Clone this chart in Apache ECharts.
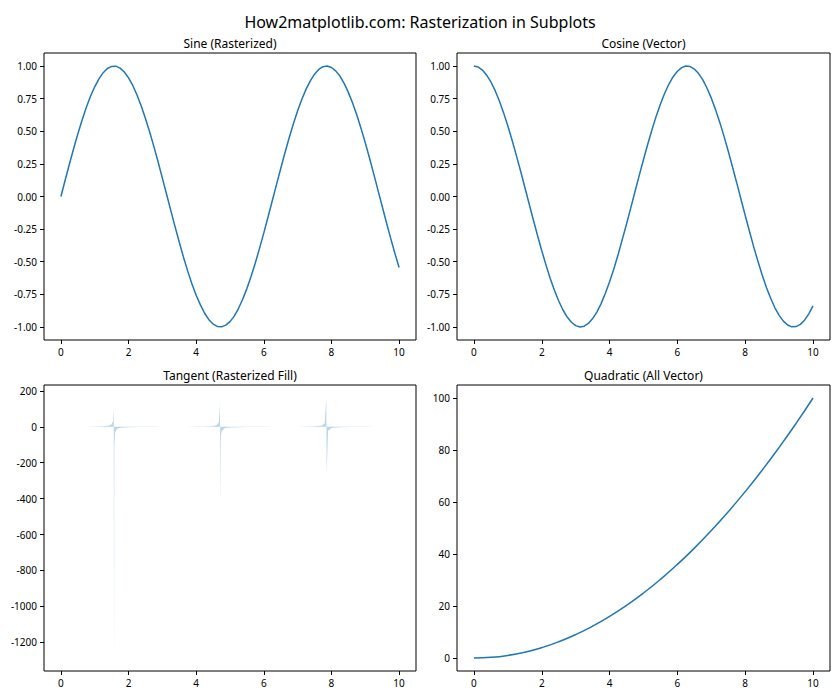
<!DOCTYPE html>
<html>
<head>
<meta charset="utf-8">
<script src="https://cdn.jsdelivr.net/npm/echarts@6/dist/echarts.min.js"></script>
<style>
html,body{margin:0;padding:0;background:#fff;}
#chart{width:840px;height:700px;}
</style>
</head>
<body>
<div id="chart"></div>
<script>
// ---- data ----
const sineX = [0,0.125,0.25,0.375,0.5,0.625,0.75,0.875,1,1.125,1.25,1.375,1.5,1.625,1.75,1.875,2,2.125,2.25,2.375,2.5,2.625,2.75,2.875,3,3.125,3.25,3.375,3.5,3.625,3.75,3.875,4,4.125,4.25,4.375,4.5,4.625,4.75,4.875,5,5.125,5.25,5.375,5.5,5.625,5.75,5.875,6,6.125,6.25,6.375,6.5,6.625,6.75,6.875,7,7.125,7.25,7.375,7.5,7.625,7.75,7.875,8,8.125,8.25,8.375,8.5,8.625,8.75,8.875,9,9.125,9.25,9.375,9.5,9.625,9.75,9.875,10];
const sineY = [0,0.125,0.247,0.366,0.479,0.585,0.682,0.768,0.841,0.902,0.949,0.981,0.997,0.999,0.984,0.954,0.909,0.851,0.778,0.694,0.598,0.494,0.382,0.264,0.141,0.017,-0.108,-0.231,-0.351,-0.465,-0.572,-0.670,-0.757,-0.831,-0.895,-0.944,-0.978,-0.996,-0.999,-0.986,-0.959,-0.917,-0.859,-0.788,-0.706,-0.612,-0.508,-0.396,-0.279,-0.157,-0.033,0.091,0.215,0.335,0.450,0.558,0.657,0.746,0.823,0.887,0.938,0.974,0.995,1.000,0.989,0.963,0.923,0.867,0.798,0.716,0.625,0.522,0.412,0.295,0.173,0.049,-0.075,-0.199,-0.319,-0.435,-0.544];
const cosX = sineX;
const cosY = [1,0.992,0.969,0.930,0.878,0.811,0.732,0.641,0.540,0.431,0.315,0.195,0.071,-0.054,-0.178,-0.299,-0.416,-0.526,-0.628,-0.720,-0.801,-0.870,-0.924,-0.964,-0.990,-1.000,-0.994,-0.973,-0.936,-0.886,-0.821,-0.742,-0.654,-0.556,-0.446,-0.329,-0.211,-0.087,0.038,0.162,0.284,0.401,0.512,0.616,0.709,0.791,0.862,0.918,0.960,0.988,1.000,0.996,0.977,0.942,0.894,0.830,0.754,0.666,0.568,0.461,0.347,0.226,0.104,-0.021,-0.146,-0.266,-0.386,-0.497,-0.602,-0.697,-0.780,-0.853,-0.911,-0.955,-0.985,-0.999,-0.997,-0.980,-0.948,-0.900,-0.839];
const tanX = [0,0.25,0.5,0.75,1,1.25,1.4,1.5,1.54,1.5616,1.5716,1.58,1.6,1.65,1.75,2,2.25,2.5,2.75,3,3.25,3.5,3.75,4,4.25,4.5,4.6,4.67,4.7047,4.7147,4.73,4.75,4.85,5,5.25,5.5,5.75,6,6.25,6.5,6.75,7,7.25,7.5,7.7,7.8,7.8478,7.8579,7.9,8,8.25,8.5,8.75,9,9.25,9.5,9.75,10];
const tanY = [0,0.255,0.546,0.932,1.557,3.01,5.8,14.1,32.5,108,-1270,-108.6,-34.2,-12.6,-5.52,-2.19,-1.24,-0.747,-0.41,-0.143,0.109,0.375,0.696,1.158,1.96,4.64,8.86,23.6,130,-434,-56,-26.1,-7.2,-3.38,-1.66,-0.996,-0.592,-0.291,-0.033,0.22,0.503,0.871,1.44,2.71,6.45,18.5,161,-258,-21.6,-6.8,-2.45,-1.3,-0.801,-0.452,-0.18,0.075,0.341,0.648];
const quadX = [0,0.5,1,1.5,2,2.5,3,3.5,4,4.5,5,5.5,6,6.5,7,7.5,8,8.5,9,9.5,10];
const quadY = [0,0.25,1,2.25,4,6.25,9,12.25,16,20.25,25,30.25,36,42.25,49,56.25,64,72.25,81,90.25,100];

const xTicks = [0,2,4,6,8,10];
const trigTicks = [-1,-0.75,-0.5,-0.25,0,0.25,0.5,0.75,1];
const tanTicks = [-1200,-1000,-800,-600,-400,-200,0,200];
const quadTicks = [0,20,40,60,80,100];

const mainTitle = 'How2matplotlib.com: Rasterization in Subplots';
const subTitles = ['Sine (Rasterized)','Cosine (Vector)','Tangent (Rasterized Fill)','Quadratic (All Vector)'];

// ---- layout ----
const FONT = 'Noto Sans';
const grids = [
  {left:44, top:53, width:372, height:287},
  {left:457, top:53, width:373, height:287},
  {left:44, top:385, width:372, height:286},
  {left:457, top:385, width:373, height:286}
];
const yRanges = [[-1.1,1.1],[-1.1,1.1],[-1360,233],[-5,105]];
const yTickSets = [trigTicks, trigTicks, tanTicks, quadTicks];
const yFmt = [v=>v.toFixed(2), v=>v.toFixed(2), v=>String(v), v=>String(v)];

const zip = (a,b)=>a.map((v,i)=>[v,b[i]]);
const C = '#1f77b4';

const option = {
  animation:false,
  backgroundColor:'#fff',
  title: [{text:mainTitle, left:'center', top:9, textStyle:{fontFamily:FONT, fontSize:16, fontWeight:'normal', color:'#000'}}],
  graphic: subTitles.map((t,i)=>({
    type:'text',
    x: grids[i].left + grids[i].width/2,
    y: grids[i].top - 10,
    style:{text:t, fontFamily:FONT, fontSize:12, fill:'#000', align:'center', verticalAlign:'middle'}
  })),
  grid: grids.map(g=>Object.assign({show:true, borderColor:'#000', borderWidth:1, backgroundColor:'transparent', containLabel:false}, g)),
  xAxis: grids.map((g,i)=>({
    type:'value', gridIndex:i, min:-0.5, max:10.5,
    axisLine:{show:false, onZero:false},
    axisTick:{show:true, inside:false, length:4, lineStyle:{color:'#000', width:1}, customValues:xTicks},
    axisLabel:{show:true, margin:7, color:'#000', fontFamily:FONT, fontSize:10, customValues:xTicks, formatter:v=>String(v)},
    splitLine:{show:false}
  })),
  yAxis: grids.map((g,i)=>({
    type:'value', gridIndex:i, min:yRanges[i][0], max:yRanges[i][1],
    axisLine:{show:false, onZero:false},
    axisTick:{show:true, inside:false, length:4, lineStyle:{color:'#000', width:1}, customValues:yTickSets[i]},
    axisLabel:{show:true, margin:7, color:'#000', fontFamily:FONT, fontSize:10, customValues:yTickSets[i], formatter:yFmt[i]},
    splitLine:{show:false}
  })),
  series: [
    {type:'line', xAxisIndex:0, yAxisIndex:0, data:zip(sineX,sineY), smooth:false, showSymbol:false, lineStyle:{color:C, width:1.5}},
    {type:'line', xAxisIndex:1, yAxisIndex:1, data:zip(cosX,cosY), smooth:false, showSymbol:false, lineStyle:{color:C, width:1.5}},
    {type:'line', xAxisIndex:2, yAxisIndex:2, data:zip(tanX,tanY), smooth:false, showSymbol:false, lineStyle:{width:0, opacity:0}, areaStyle:{color:C, opacity:0.3, origin:0}},
    {type:'line', xAxisIndex:3, yAxisIndex:3, data:zip(quadX,quadY), smooth:true, showSymbol:false, lineStyle:{color:C, width:1.5}}
  ]
};

const chart = echarts.init(document.getElementById('chart'), null, {renderer:'svg', width:840, height:700});
chart.setOption(option);
</script>
</body>
</html>
